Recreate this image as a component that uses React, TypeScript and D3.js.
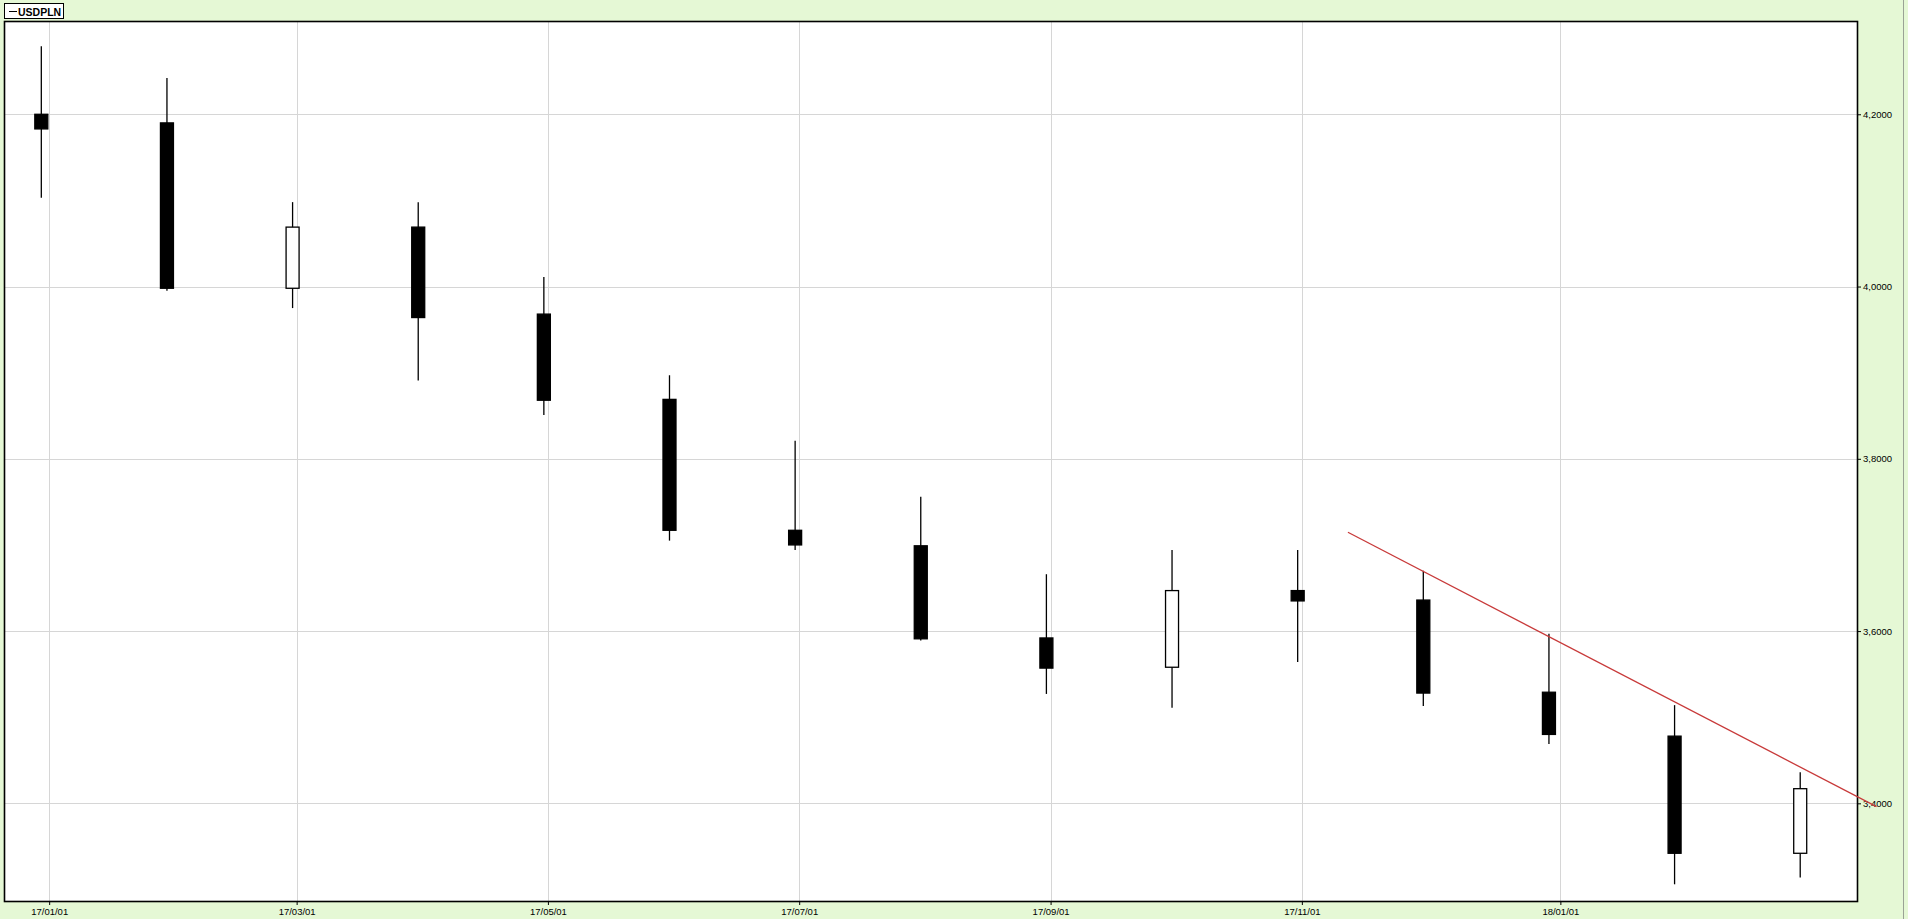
import React from "react"
import * as d3 from "d3"

// monthly USDPLN candles, dated at the last day of each month
const candleDates = ["2016-12-30", "2017-01-31", "2017-02-28", "2017-03-31", "2017-04-30", "2017-05-31", "2017-06-30", "2017-07-31", "2017-08-31", "2017-09-30", "2017-10-31", "2017-11-30", "2017-12-29", "2018-01-31", "2018-02-28"]
const opens = [4.200, 4.190, 3.998, 4.069, 3.968, 3.869, 3.717, 3.699, 3.592, 3.558, 3.647, 3.636, 3.529, 3.478, 3.342]
const closes = [4.183, 3.998, 4.069, 3.964, 3.868, 3.717, 3.700, 3.591, 3.557, 3.647, 3.635, 3.528, 3.480, 3.342, 3.417]
const highs = [4.279, 4.242, 4.098, 4.098, 4.011, 3.897, 3.821, 3.756, 3.666, 3.694, 3.694, 3.670, 3.597, 3.514, 3.436]
const lows = [4.103, 3.995, 3.975, 3.891, 3.851, 3.705, 3.694, 3.589, 3.527, 3.511, 3.564, 3.513, 3.469, 3.306, 3.314]

// hand drawn trend line
const trendDates = ["2017-11-12", "2018-03-17"]
const trendValues = [3.7147, 3.3961]

const xTickDates = ["2017-01-01", "2017-03-01", "2017-05-01", "2017-07-01", "2017-09-01", "2017-11-01", "2018-01-01"]
const yTickValues = [3.4, 3.6, 3.8, 4.0, 4.2]

const seriesName = "USDPLN"

const parse = d3.timeParse("%Y-%m-%d")

class App extends React.Component {
    ref = React.createRef<HTMLDivElement>()

    componentDidMount() {
        this.renderChart()
    }

    renderChart() {
        document.body.style.margin = "0"
        document.body.style.background = "#e5f8d5"

        let w = 1908
        let h = 919
        let left = 4
        let top = 21
        let right = 1857
        let bottom = 901

        let root = d3.select(this.ref.current)
        root.selectAll("*").remove()

        let svg = root.append("svg")
            .attr("width", w)
            .attr("height", h)
            .style("display", "block")
            .style("font-family", "'Liberation Sans', Arial, sans-serif")

        svg.append("rect")
            .attr("width", w).attr("height", h)
            .attr("fill", "#e5f8d5")

        svg.append("line")
            .attr("x1", 1903.5).attr("x2", 1903.5)
            .attr("y1", 0).attr("y2", h)
            .attr("stroke", "#9aa295").attr("stroke-width", 1)

        // candles sit at even steps, dates are interpolated between them
        let dates = candleDates.map(d => parse(d)!)
        let dateToIndex = d3.scaleTime()
            .domain(dates)
            .range(d3.range(dates.length))

        let xIndex = d3.scaleLinear()
            .domain([-0.297, 14.452])
            .range([left, right])

        let xScale = (d: Date) => xIndex(dateToIndex(d))

        let yScale = d3.scaleLinear()
            .domain([3.2866, 4.3083])
            .range([bottom, top])

        svg.append("rect")
            .attr("x", left).attr("y", top)
            .attr("width", right - left).attr("height", bottom - top)
            .attr("fill", "#ffffff")

        // grid
        let grid = svg.append("g")
        grid.selectAll(".vg")
            .data(xTickDates)
            .enter()
            .append("line")
            .attr("x1", d => Math.round(xScale(parse(d)!)) + 0.5)
            .attr("x2", d => Math.round(xScale(parse(d)!)) + 0.5)
            .attr("y1", top).attr("y2", bottom)
            .attr("stroke", "#d6d6d6")
        grid.selectAll(".hg")
            .data(yTickValues)
            .enter()
            .append("line")
            .attr("y1", d => Math.round(yScale(d)) + 0.5)
            .attr("y2", d => Math.round(yScale(d)) + 0.5)
            .attr("x1", left).attr("x2", right)
            .attr("stroke", "#d6d6d6")

        // axes
        let fmtDate = d3.timeFormat("%y/%m/%d")
        let fmtVal = (v: number) => v.toFixed(4).replace(".", ",")

        let xTickIdx = xTickDates.map(d => dateToIndex(parse(d)!))
        let xAxis = svg.append("g")
            .attr("transform", `translate(0, ${bottom})`)
            .call(d3.axisBottom(xIndex)
                .tickValues(xTickIdx)
                .tickFormat((_, i) => fmtDate(parse(xTickDates[i])!))
                .tickSize(4)
                .tickPadding(3))
        xAxis.select(".domain").remove()
        xAxis.selectAll("text").attr("font-size", 9.5).attr("fill", "#000").attr("font-family", "'Liberation Sans', Arial, sans-serif")
        xAxis.selectAll("line").attr("stroke", "#000")

        let yAxis = svg.append("g")
            .attr("transform", `translate(${right}, 0)`)
            .call(d3.axisRight(yScale)
                .tickValues(yTickValues)
                .tickFormat(d => fmtVal(d as number))
                .tickSize(4)
                .tickPadding(2))
        yAxis.select(".domain").remove()
        yAxis.selectAll("text").attr("font-size", 9.5).attr("fill", "#000").attr("font-family", "'Liberation Sans', Arial, sans-serif")
        yAxis.selectAll("line").attr("stroke", "#000")

        // frame
        svg.append("rect")
            .attr("x", left + 0.5).attr("y", top + 0.5)
            .attr("width", right - left).attr("height", bottom - top)
            .attr("fill", "none")
            .attr("stroke", "#000")
            .attr("stroke-width", 1.6)

        // candles
        let data = dates.map((d, i) => ({
            date: d, open: opens[i], close: closes[i], high: highs[i], low: lows[i]
        }))
        let bodyW = 13

        let candles = svg.append("g")
        candles.selectAll(".wick")
            .data(data)
            .enter()
            .append("line")
            .attr("x1", d => xScale(d.date))
            .attr("x2", d => xScale(d.date))
            .attr("y1", d => yScale(d.high))
            .attr("y2", d => yScale(d.low))
            .attr("stroke", "#000")
            .attr("stroke-width", 1.3)

        candles.selectAll(".body")
            .data(data)
            .enter()
            .append("rect")
            .attr("x", d => xScale(d.date) - bodyW / 2)
            .attr("width", bodyW)
            .attr("y", d => yScale(Math.max(d.open, d.close)))
            .attr("height", d => Math.max(1, Math.abs(yScale(d.open) - yScale(d.close))))
            .attr("fill", d => d.close >= d.open ? "#ffffff" : "#000000")
            .attr("stroke", "#000")
            .attr("stroke-width", 1.3)

        // trend line
        let trend = trendDates.map((d, i) => ({ date: parse(d)!, v: trendValues[i] }))
        let line = d3.line<{ date: Date, v: number }>()
            .x(d => xScale(d.date))
            .y(d => yScale(d.v))
        svg.append("path")
            .datum(trend)
            .attr("fill", "none")
            .attr("stroke", "#c83a3a")
            .attr("stroke-width", 1.3)
            .attr("d", line)

        // legend
        let legend = svg.append("g")
        legend.append("rect")
            .attr("x", 4.5).attr("y", 3.5)
            .attr("width", 59).attr("height", 15)
            .attr("fill", "#ffffff")
            .attr("stroke", "#000")
            .attr("stroke-width", 1)
        legend.append("line")
            .attr("x1", 9).attr("x2", 17)
            .attr("y1", 11.5).attr("y2", 11.5)
            .attr("stroke", "#000")
        legend.append("text")
            .attr("x", 18).attr("y", 15.5)
            .attr("font-size", 10.5)
            .attr("font-weight", "bold")
            .text(seriesName)
    }

    render() {
        return <div ref={this.ref}></div>
    }
}

export default App
